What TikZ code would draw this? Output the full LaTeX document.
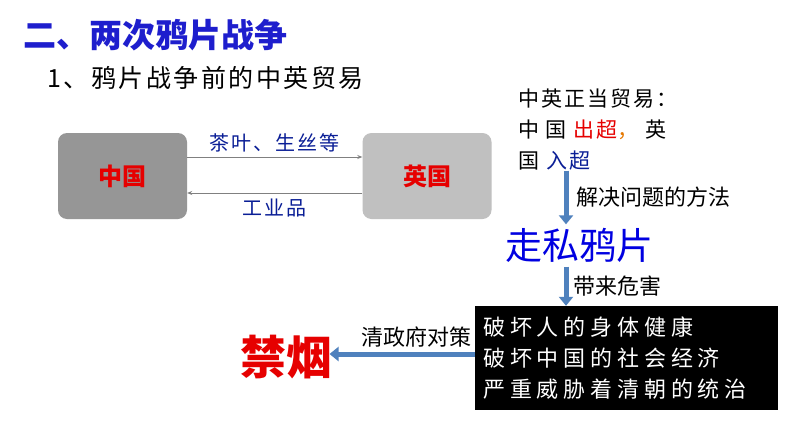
\documentclass[tikz,border=0pt]{standalone}
\usepackage{fontspec}
\setmainfont{Noto Sans CJK SC}
\newfontfamily\spacedfont[LetterSpace=22]{Noto Sans CJK SC}
\newfontfamily\widefont[LetterSpace=10]{Noto Sans CJK SC}
\usetikzlibrary{arrows.meta,positioning}
\definecolor{titleblue}{RGB}{30,30,205}
\definecolor{navy}{RGB}{10,30,150}
\definecolor{brightblue}{RGB}{0,0,225}
\definecolor{hotred}{RGB}{230,0,0}
\definecolor{arrowblue}{RGB}{79,129,189}
\definecolor{darkgray}{RGB}{150,150,150}
\definecolor{lightgray}{RGB}{192,192,192}
\definecolor{commaorange}{RGB}{230,120,0}
\tikzset{
  country/.style={rounded corners=9pt, minimum width=129pt, minimum height=86pt, text=hotred, font=\fontsize{24}{28}\selectfont\bfseries},
  goods/.style={text=navy, font=\widefont\fontsize{20}{24}\selectfont},
  trade/.style={-{Stealth[length=5pt,width=4pt]}, line width=0.7pt, draw=gray},
  bluearrow/.style={-{Triangle[length=9pt,width=14pt]}, line width=5pt, draw=arrowblue},
  tag/.style={text=black, font=\fontsize{22}{24}\selectfont, inner sep=1pt}
}

\begin{document}
\begin{tikzpicture}[x=1pt,y=-1pt]
  \useasboundingbox[fill=white] (0,0) rectangle (794,447);

  \node[anchor=west, text=titleblue, font=\fontsize{33}{36}\selectfont\bfseries] (title) at (20,35) {二、两次鸦片战争};
  \node[anchor=west, font=\widefont\fontsize{25}{28}\selectfont] (subtitle) at (44,78) {1、鸦片战争前的中英贸易};

  \node[country, fill=darkgray] (china) at (122.5,176) {中国};
  \node[country, fill=lightgray] (britain) at (427,176) {英国};

  \draw[trade] ([yshift=19pt]china.east) -- ([yshift=19pt]britain.west)
    node[goods, midway, above=1pt] (tea) {茶叶、生丝等};
  \draw[trade] ([yshift=-17pt]britain.west) -- ([yshift=-17pt]china.east)
    node[goods, midway, below=2pt] (ware) {工业品};

  % right hand column
  \node[anchor=north west, align=left, inner sep=0pt, font=\widefont\fontsize{21}{31}\selectfont] (legal) at (518,89)
    {中英正当贸易：\\ 中 国 \textcolor{hotred}{出超}\textcolor{commaorange}{，} 英\\ 国 \textcolor{navy}{入超}};
  \coordinate (ax) at (566,0);
  \node[text=brightblue, font=\fontsize{37}{40}\selectfont] (smuggle) at (579,245) {走私鸦片};
  \node[fill=black, minimum width=303pt, minimum height=104pt] (harm) at (626.5,358) {};
  \node[anchor=west, align=left, text=white, inner sep=0pt, font=\spacedfont\fontsize{22}{31}\selectfont] (harmtext) at (483,358)
    {破坏人的身体健康\\ 破坏中国的社会经济\\ 严重威胁着清朝的统治};
  \node[text=hotred, font=\fontsize{46}{50}\selectfont\bfseries] (ban) at (286,357) {禁烟};

  \draw[bluearrow] (legal.south -| ax) -- (smuggle.north -| ax)
    node[tag, midway, right=7pt] (howto) {解决问题的方法};
  \draw[bluearrow] ([yshift=-1pt]smuggle.south -| ax) -- (harm.north -| ax)
    node[tag, midway, right=4pt] (danger) {带来危害};
  \draw[bluearrow] ([yshift=4pt]harm.west) -- ([yshift=4pt,xshift=-6pt]harm.west -| ban.east)
    node[tag, pos=0.4, above=3pt] (policy) {清政府对策};
\end{tikzpicture}
\end{document}
